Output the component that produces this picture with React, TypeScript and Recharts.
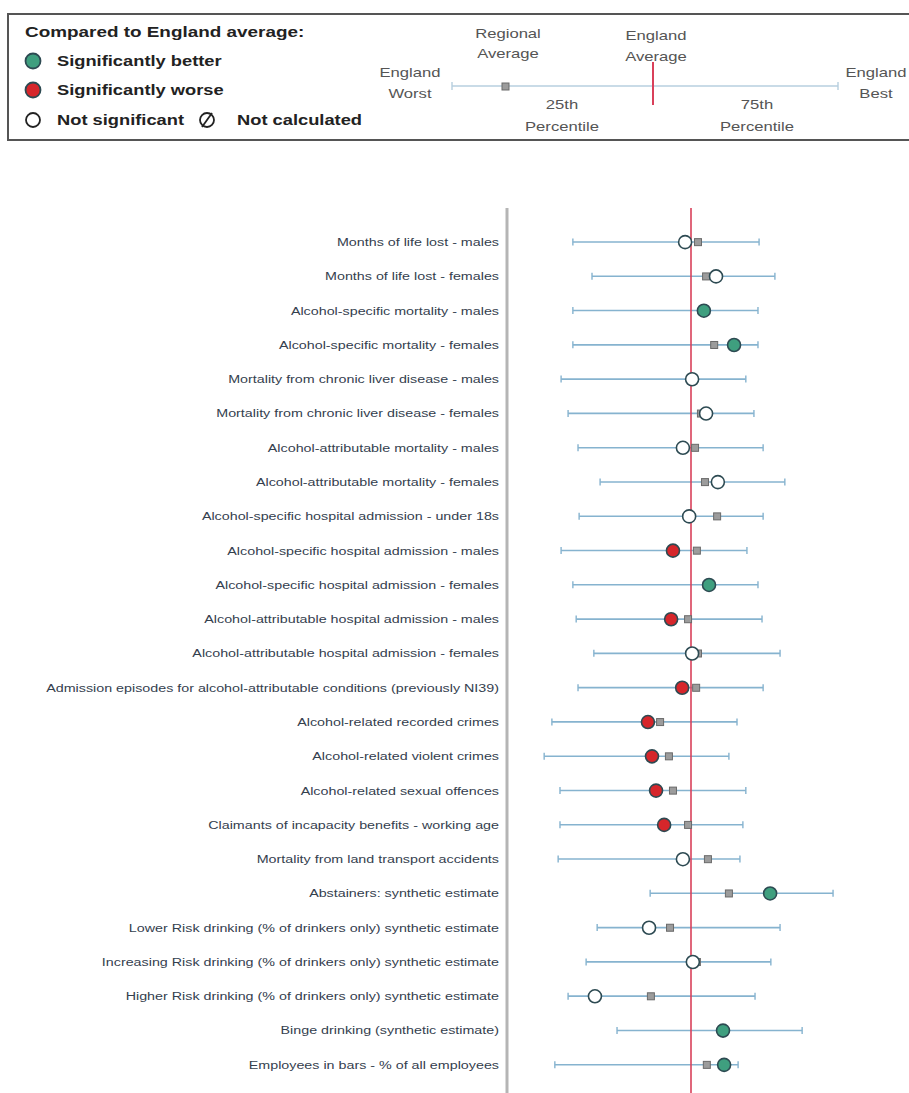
import { ComposedChart, Bar, Line, XAxis, YAxis, ReferenceLine } from 'recharts';

// indicators, top to bottom
const indicators = [
  'Months of life lost - males',
  'Months of life lost - females',
  'Alcohol-specific mortality - males',
  'Alcohol-specific mortality - females',
  'Mortality from chronic liver disease - males',
  'Mortality from chronic liver disease - females',
  'Alcohol-attributable mortality - males',
  'Alcohol-attributable mortality - females',
  'Alcohol-specific hospital admission - under 18s',
  'Alcohol-specific hospital admission - males',
  'Alcohol-specific hospital admission - females',
  'Alcohol-attributable hospital admission - males',
  'Alcohol-attributable hospital admission - females',
  'Admission episodes for alcohol-attributable conditions (previously NI39)',
  'Alcohol-related recorded crimes',
  'Alcohol-related violent crimes',
  'Alcohol-related sexual offences',
  'Claimants of incapacity benefits - working age',
  'Mortality from land transport accidents',
  'Abstainers: synthetic estimate',
  'Lower Risk drinking (% of drinkers only) synthetic estimate',
  'Increasing Risk drinking (% of drinkers only) synthetic estimate',
  'Higher Risk drinking (% of drinkers only) synthetic estimate',
  'Binge drinking (synthetic estimate)',
  'Employees in bars - % of all employees',
];

// spine scale: England average sits at 50
const englandWorst = [17.9, 23.1, 17.9, 17.9, 14.7, 16.6, 19.3, 25.3, 19.6, 14.7, 17.9, 18.8, 23.6, 19.3, 12.2, 10.1, 14.4, 14.4, 13.9, 38.9, 24.5, 21.5, 16.6, 29.9, 13.0];
const englandBest = [68.5, 72.8, 68.2, 68.2, 64.9, 67.1, 69.6, 75.5, 69.6, 65.2, 68.2, 69.3, 74.2, 69.6, 62.5, 60.3, 64.9, 64.1, 63.3, 88.6, 74.2, 71.7, 67.4, 80.2, 62.8];
const localValue = [48.4, 56.8, 53.5, 61.7, 50.3, 54.1, 47.8, 57.3, 49.5, 45.1, 54.9, 44.6, 50.3, 47.6, 38.3, 39.4, 40.5, 42.7, 47.8, 71.5, 38.6, 50.5, 23.9, 58.7, 59.0];
const regionalAverage = [51.9, 54.1, 53.3, 56.3, 50.3, 52.7, 51.1, 53.8, 57.1, 51.6, 54.3, 49.2, 51.9, 51.4, 41.6, 44.0, 45.1, 49.2, 54.6, 60.3, 44.3, 51.6, 39.1, 58.4, 54.3];
// b = significantly better, w = significantly worse, n = not significant
const significance = ['n', 'n', 'b', 'b', 'n', 'n', 'n', 'n', 'n', 'w', 'b', 'w', 'n', 'w', 'w', 'w', 'w', 'w', 'n', 'b', 'n', 'n', 'n', 'b', 'b'];

const ENGLAND_AVERAGE = 50;

const data = indicators.map((name, i) => ({
  name,
  range: [englandWorst[i], englandBest[i]],
  local: localValue[i],
  regional: regionalAverage[i],
  sig: significance[i],
}));

const FONT = '"Liberation Sans", Arial, sans-serif';
const WHISKER = '#86b3cf';
const GREEN = '#3f9f7f';
const RED = '#d6262b';
const OUTLINE = '#2d4a52';

const fillFor = (s: string) => (s === 'b' ? GREEN : s === 'w' ? RED : '#ffffff');

// stretched text, the original is wide
const SText = ({ x, y, children, size = 13, weight = 'normal', anchor = 'start', fill = '#555', sx = 1.28 }: any) => (
  <text
    transform={`translate(${x},${y}) scale(${sx},1)`}
    textAnchor={anchor}
    dominantBaseline="central"
    fontSize={size}
    fontWeight={weight}
    fill={fill}
    fontFamily={FONT}
  >
    {children}
  </text>
);

const Whisker = (props: any) => {
  const { x, y, width, height } = props;
  const cy = y + height / 2;
  return (
    <g>
      <line x1={x} x2={x + width} y1={cy} y2={cy} stroke={WHISKER} strokeWidth={1.6} />
      <line x1={x} x2={x} y1={cy - 3.5} y2={cy + 3.5} stroke={WHISKER} strokeWidth={1.4} />
      <line x1={x + width} x2={x + width} y1={cy - 3.5} y2={cy + 3.5} stroke={WHISKER} strokeWidth={1.4} />
    </g>
  );
};

const RegionalDot = (props: any) => {
  const { cx, cy, index } = props;
  if (cx == null || cy == null) return <g key={`r-${index}`} />;
  return <rect key={`r-${index}`} x={cx - 3.5} y={cy - 3.5} width={7} height={7} fill="#9c9c9c" stroke="#6a6a6a" strokeWidth={1} />;
};

const LocalDot = (props: any) => {
  const { cx, cy, index, payload } = props;
  if (cx == null || cy == null) return <g key={`l-${index}`} />;
  return <circle key={`l-${index}`} cx={cx} cy={cy} r={6.5} fill={fillFor(payload.sig)} stroke={OUTLINE} strokeWidth={1.6} />;
};

const LabelTick = (props: any) => {
  const { x, y, payload } = props;
  return (
    <text
      transform={`translate(${x},${y}) scale(1.3,1)`}
      textAnchor="end"
      dominantBaseline="central"
      fontSize={11}
      fill="#34404e"
      fontFamily={FONT}
    >
      {payload.value}
    </text>
  );
};

const Key = () => (
  <svg width={909} height={160} style={{ position: 'absolute', left: 0, top: 0 }}>
    <rect x={8} y={14} width={960} height={126} fill="#fff" stroke="#555" strokeWidth={2} />
    <SText x={25} y={32} size={14} weight="bold" fill="#222" sx={1.35}>Compared to England average:</SText>
    <circle cx={33} cy={61} r={7.5} fill={GREEN} stroke={OUTLINE} strokeWidth={1.8} />
    <SText x={57} y={61} size={15} weight="bold" fill="#222" sx={1.22}>Significantly better</SText>
    <circle cx={33} cy={90} r={7.5} fill={RED} stroke={OUTLINE} strokeWidth={1.8} />
    <SText x={57} y={90} size={15} weight="bold" fill="#222" sx={1.22}>Significantly worse</SText>
    <circle cx={33} cy={120} r={7} fill="#fff" stroke="#222" strokeWidth={1.8} />
    <SText x={57} y={120} size={15} weight="bold" fill="#222" sx={1.22}>Not significant</SText>
    <circle cx={207} cy={120} r={7} fill="#fff" stroke="#222" strokeWidth={1.8} />
    <line x1={202} y1={127} x2={212} y2={113} stroke="#222" strokeWidth={1.8} />
    <SText x={237} y={120} size={15} weight="bold" fill="#222" sx={1.22}>Not calculated</SText>

    <line x1={452} x2={838} y1={86} y2={86} stroke="#b7cfdf" strokeWidth={1.6} />
    <line x1={452} x2={452} y1={82} y2={90} stroke="#b7cfdf" strokeWidth={1.4} />
    <line x1={838} x2={838} y1={82} y2={90} stroke="#b7cfdf" strokeWidth={1.4} />
    <rect x={502} y={83} width={7} height={7} fill="#9c9c9c" stroke="#6a6a6a" />
    <line x1={653} x2={653} y1={62} y2={105} stroke="#d9405a" strokeWidth={2} />
    <SText x={410} y={72} anchor="middle">England</SText>
    <SText x={410} y={93} anchor="middle">Worst</SText>
    <SText x={508} y={33} anchor="middle">Regional</SText>
    <SText x={508} y={53} anchor="middle">Average</SText>
    <SText x={656} y={35} anchor="middle">England</SText>
    <SText x={656} y={56} anchor="middle">Average</SText>
    <SText x={562} y={104} anchor="middle">25th</SText>
    <SText x={562} y={126} anchor="middle">Percentile</SText>
    <SText x={757} y={104} anchor="middle">75th</SText>
    <SText x={757} y={126} anchor="middle">Percentile</SText>
    <SText x={876} y={72} anchor="middle">England</SText>
    <SText x={876} y={93} anchor="middle">Best</SText>
  </svg>
);

export default function App() {
  return (
    <div style={{ position: 'absolute', left: 0, top: 0, width: 909, height: 1093, background: '#fff', overflow: 'hidden' }}>
      <Key />
      <div style={{ position: 'absolute', left: 0, top: 200 }}>
        <ComposedChart
          width={909}
          height={893}
          data={data}
          layout="vertical"
          margin={{ top: 8, right: 34, bottom: 0, left: 0 }}
        >
          <XAxis type="number" domain={[0, 100]} hide />
          <YAxis
            type="category"
            dataKey="name"
            width={507}
            interval={0}
            tickLine={false}
            tick={<LabelTick />}
            axisLine={{ stroke: '#b5b5b5', strokeWidth: 3 }}
            padding={{ top: 17, bottom: 11 }}
          />
          <Bar dataKey="range" barSize={10} shape={<Whisker />} isAnimationActive={false} />
          <ReferenceLine x={ENGLAND_AVERAGE} stroke="#d9405a" strokeWidth={1.6} />
          <Line dataKey="regional" stroke="none" dot={RegionalDot} activeDot={false} isAnimationActive={false} />
          <Line dataKey="local" stroke="none" dot={LocalDot} activeDot={false} isAnimationActive={false} />
        </ComposedChart>
      </div>
    </div>
  );
}
